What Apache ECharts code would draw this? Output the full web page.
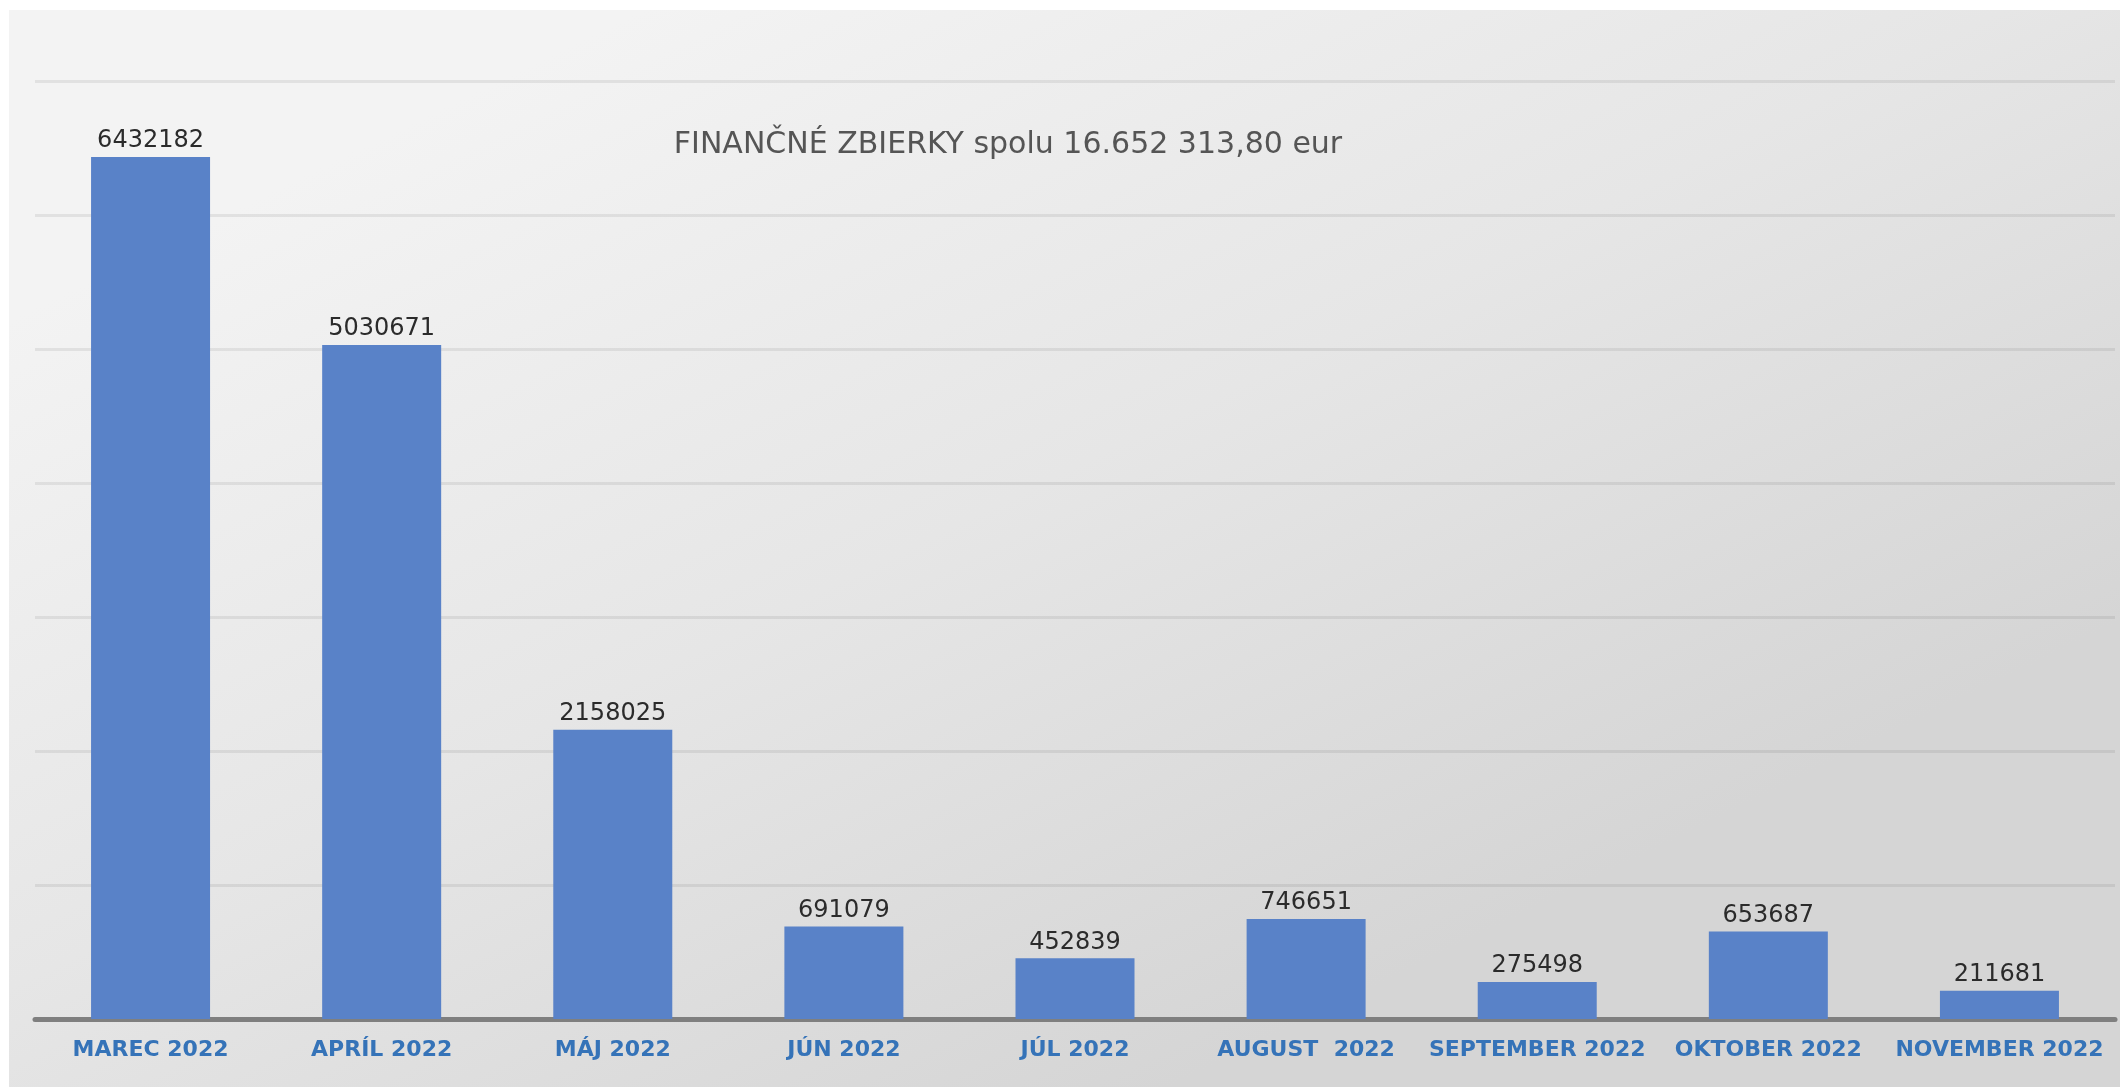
<!DOCTYPE html>
<html>
<head>
<meta charset="utf-8">
<script src="https://cdn.jsdelivr.net/npm/echarts@6/dist/echarts.min.js"></script>
<style>
html,body{margin:0;padding:0;background:#fff;}
#c{width:2120px;height:1087px;}
</style>
</head>
<body>
<div id="c"></div>
<script>
const titleText = 'FINANČNÉ ZBIERKY spolu 16.652 313,80 eur';
const categories = ['MAREC 2022','APRÍL 2022','MÁJ 2022','JÚN 2022','JÚL 2022','AUGUST  2022','SEPTEMBER 2022','OKTOBER 2022','NOVEMBER 2022'];
const values = [6432182, 5030671, 2158025, 691079, 452839, 746651, 275498, 653687, 211681];
const yMin = 0, yMax = 7000000, yInterval = 1000000;

const chart = echarts.init(document.getElementById('c'), null, {renderer:'canvas'});
chart.setOption({
  animation:false,
  graphic:[{
    type:'rect', z:-10, silent:true,
    shape:{x:9, y:10, width:2111, height:1077},
    style:{fill:new echarts.graphic.LinearGradient(0.3,0,0.55,1,[
      {offset:0,color:'#f3f3f3'},{offset:0.5,color:'#e6e6e6'},{offset:1,color:'#d5d5d5'}])}
  }],
  title:{
    text:titleText, left:1003, top:125, textAlign:'center',
    textStyle:{fontFamily:'DejaVu Sans', fontWeight:'normal', fontSize:30, color:'#555555'}
  },
  grid:{left:35, right:5, top:81, bottom:68, containLabel:false},
  xAxis:{
    type:'category', data:categories,
    axisLine:{show:true, lineStyle:{color:'#7f7f7f', width:5}},
    axisTick:{show:false},
    axisLabel:{interval:0, margin:20, fontFamily:'DejaVu Sans', fontWeight:'bold', fontSize:22, color:'#3573b8'}
  },
  yAxis:{
    type:'value', min:yMin, max:yMax, interval:yInterval,
    axisLabel:{show:false}, axisLine:{show:false}, axisTick:{show:false},
    splitLine:{lineStyle:{color:'rgba(0,0,0,0.07)', width:3}}
  },
  series:[{
    type:'bar', data:values, barWidth:119,
    itemStyle:{color:'#5982c8'},
    label:{show:true, position:'top', distance:4, fontFamily:'DejaVu Sans', fontSize:24, color:'#2b2b2b'}
  }]
});
</script>
</body>
</html>
